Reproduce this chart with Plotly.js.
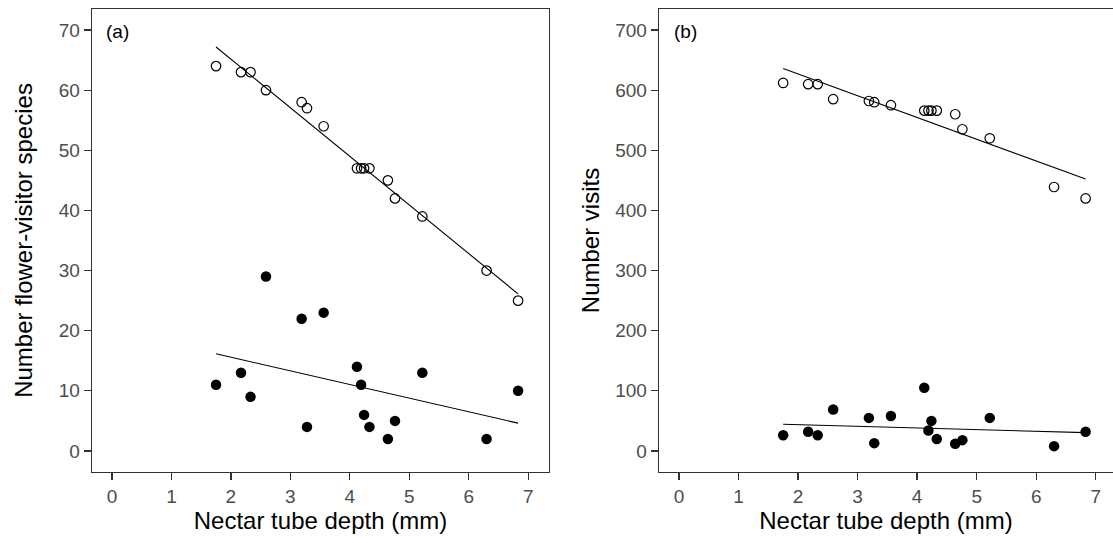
<!DOCTYPE html>
<html>
<head>
<meta charset="utf-8">
<script src="https://cdn.plot.ly/plotly-3.0.1.min.js"></script>
<style>html,body{margin:0;padding:0;background:#fff;}#chart{width:1113px;height:543px;}</style>
</head>
<body>
<div id="chart"></div>
<script>
// Nectar tube depth (mm), shared by both panels
const depth = [1.75, 2.17, 2.33, 2.59, 3.19, 3.28, 3.56, 4.12, 4.19, 4.24, 4.33, 4.64, 4.76, 5.22, 6.30, 6.83];
// Panel (a): number of flower-visitor species
const speciesOpen   = [64, 63, 63, 60, 58, 57, 54, 47, 47, 47, 47, 45, 42, 39, 30, 25];
const speciesFilled = [11, 13, 9, 29, 22, 4, 23, 14, 11, 6, 4, 2, 5, 13, 2, 10];
// Panel (b): number of visits
const visitsOpen   = [612, 610, 610, 585, 582, 580, 575, 566, 566, 566, 566, 560, 535, 520, 439, 420];
const visitsFilled = [26, 32, 26, 69, 55, 13, 58, 105, 34, 50, 20, 12, 18, 55, 8, 32];
const panelLabels = ["(a)", "(b)"];
const xTitle = "Nectar tube depth (mm)";
const yTitles = ["Number flower-visitor species", "Number visits"];
const xTicks = [0, 1, 2, 3, 4, 5, 6, 7];
const yTicksA = [0, 10, 20, 30, 40, 50, 60, 70];
const yTicksB = [0, 100, 200, 300, 400, 500, 600, 700];

function lmLine(xs, ys) {
  const n = xs.length;
  const mx = xs.reduce((a, b) => a + b, 0) / n;
  const my = ys.reduce((a, b) => a + b, 0) / n;
  let sxy = 0, sxx = 0;
  for (let i = 0; i < n; i++) { sxy += (xs[i] - mx) * (ys[i] - my); sxx += (xs[i] - mx) ** 2; }
  const b = sxy / sxx, a = my - b * mx;
  const x0 = Math.min(...xs), x1 = Math.max(...xs);
  return { x: [x0, x1], y: [a + b * x0, a + b * x1] };
}

const openMarker = { symbol: 'circle-open', size: 9.5, color: '#000', line: { width: 1.2, color: '#000' } };
const fillMarker = { symbol: 'circle', size: 10.5, color: '#000' };
const lineStyle = { color: '#000', width: 1.1 };

const traces = [];
[[speciesOpen, speciesFilled, 'x', 'y'], [visitsOpen, visitsFilled, 'x2', 'y2']].forEach(([op, fi, xa, ya]) => {
  const l1 = lmLine(depth, op), l2 = lmLine(depth, fi);
  traces.push({ x: l1.x, y: l1.y, mode: 'lines', line: lineStyle, xaxis: xa, yaxis: ya, showlegend: false, hoverinfo: 'skip' });
  traces.push({ x: l2.x, y: l2.y, mode: 'lines', line: lineStyle, xaxis: xa, yaxis: ya, showlegend: false, hoverinfo: 'skip' });
  traces.push({ x: depth, y: op, mode: 'markers', marker: openMarker, xaxis: xa, yaxis: ya, showlegend: false });
  traces.push({ x: depth, y: fi, mode: 'markers', marker: fillMarker, xaxis: xa, yaxis: ya, showlegend: false });
});

const font = 'Liberation Sans, Arial, sans-serif';
const tickFont = { family: font, size: 19, color: '#4d4d4d' };
const titleFont = { family: font, size: 24, color: '#000' };
const axisCommon = {
  showgrid: false, zeroline: false, showline: true, linecolor: '#333', linewidth: 1.3,
  ticks: 'outside', ticklen: 7, tickwidth: 1.3, tickcolor: '#333', tickfont: tickFont
};

const W = 1113, H = 543, ML = 92, MR = 0, MT = 9, MB = 71;
const PW = W - ML - MR, PH = H - MT - MB;

const layout = {
  width: W, height: H,
  margin: { l: ML, r: MR, t: MT, b: MB },
  paper_bgcolor: '#fff', plot_bgcolor: '#fff',
  xaxis: Object.assign({}, axisCommon, { domain: [0, 0.4476], range: [-0.336, 7.35], tickvals: xTicks, mirror: true,
    title: { text: xTitle, font: titleFont, standoff: 4 } }),
  yaxis: Object.assign({}, axisCommon, { range: [-3.5, 73.5], tickvals: yTicksA, mirror: true,
    title: { text: yTitles[0], font: titleFont, standoff: 19 } }),
  xaxis2: Object.assign({}, axisCommon, { domain: [0.5553, 1], range: [-0.336, 7.29], tickvals: xTicks, mirror: true, anchor: 'y2',
    title: { text: xTitle, font: titleFont, standoff: 4 } }),
  yaxis2: Object.assign({}, axisCommon, { range: [-35, 735], tickvals: yTicksB, mirror: false, anchor: 'x2',
    title: { text: yTitles[1], font: titleFont, standoff: 8 } }),
  annotations: [
    { text: panelLabels[0], xref: 'paper', yref: 'paper', x: (104 - ML) / PW, y: (H - 32 - MB) / PH, xanchor: 'left', yanchor: 'middle', showarrow: false, font: { family: font, size: 19, color: '#000' } },
    { text: panelLabels[1], xref: 'paper', yref: 'paper', x: (672 - ML) / PW, y: (H - 32 - MB) / PH, xanchor: 'left', yanchor: 'middle', showarrow: false, font: { family: font, size: 19, color: '#000' } }
  ]
};

Plotly.newPlot('chart', traces, layout, { staticPlot: true, displayModeBar: false });
</script>
</body>
</html>
